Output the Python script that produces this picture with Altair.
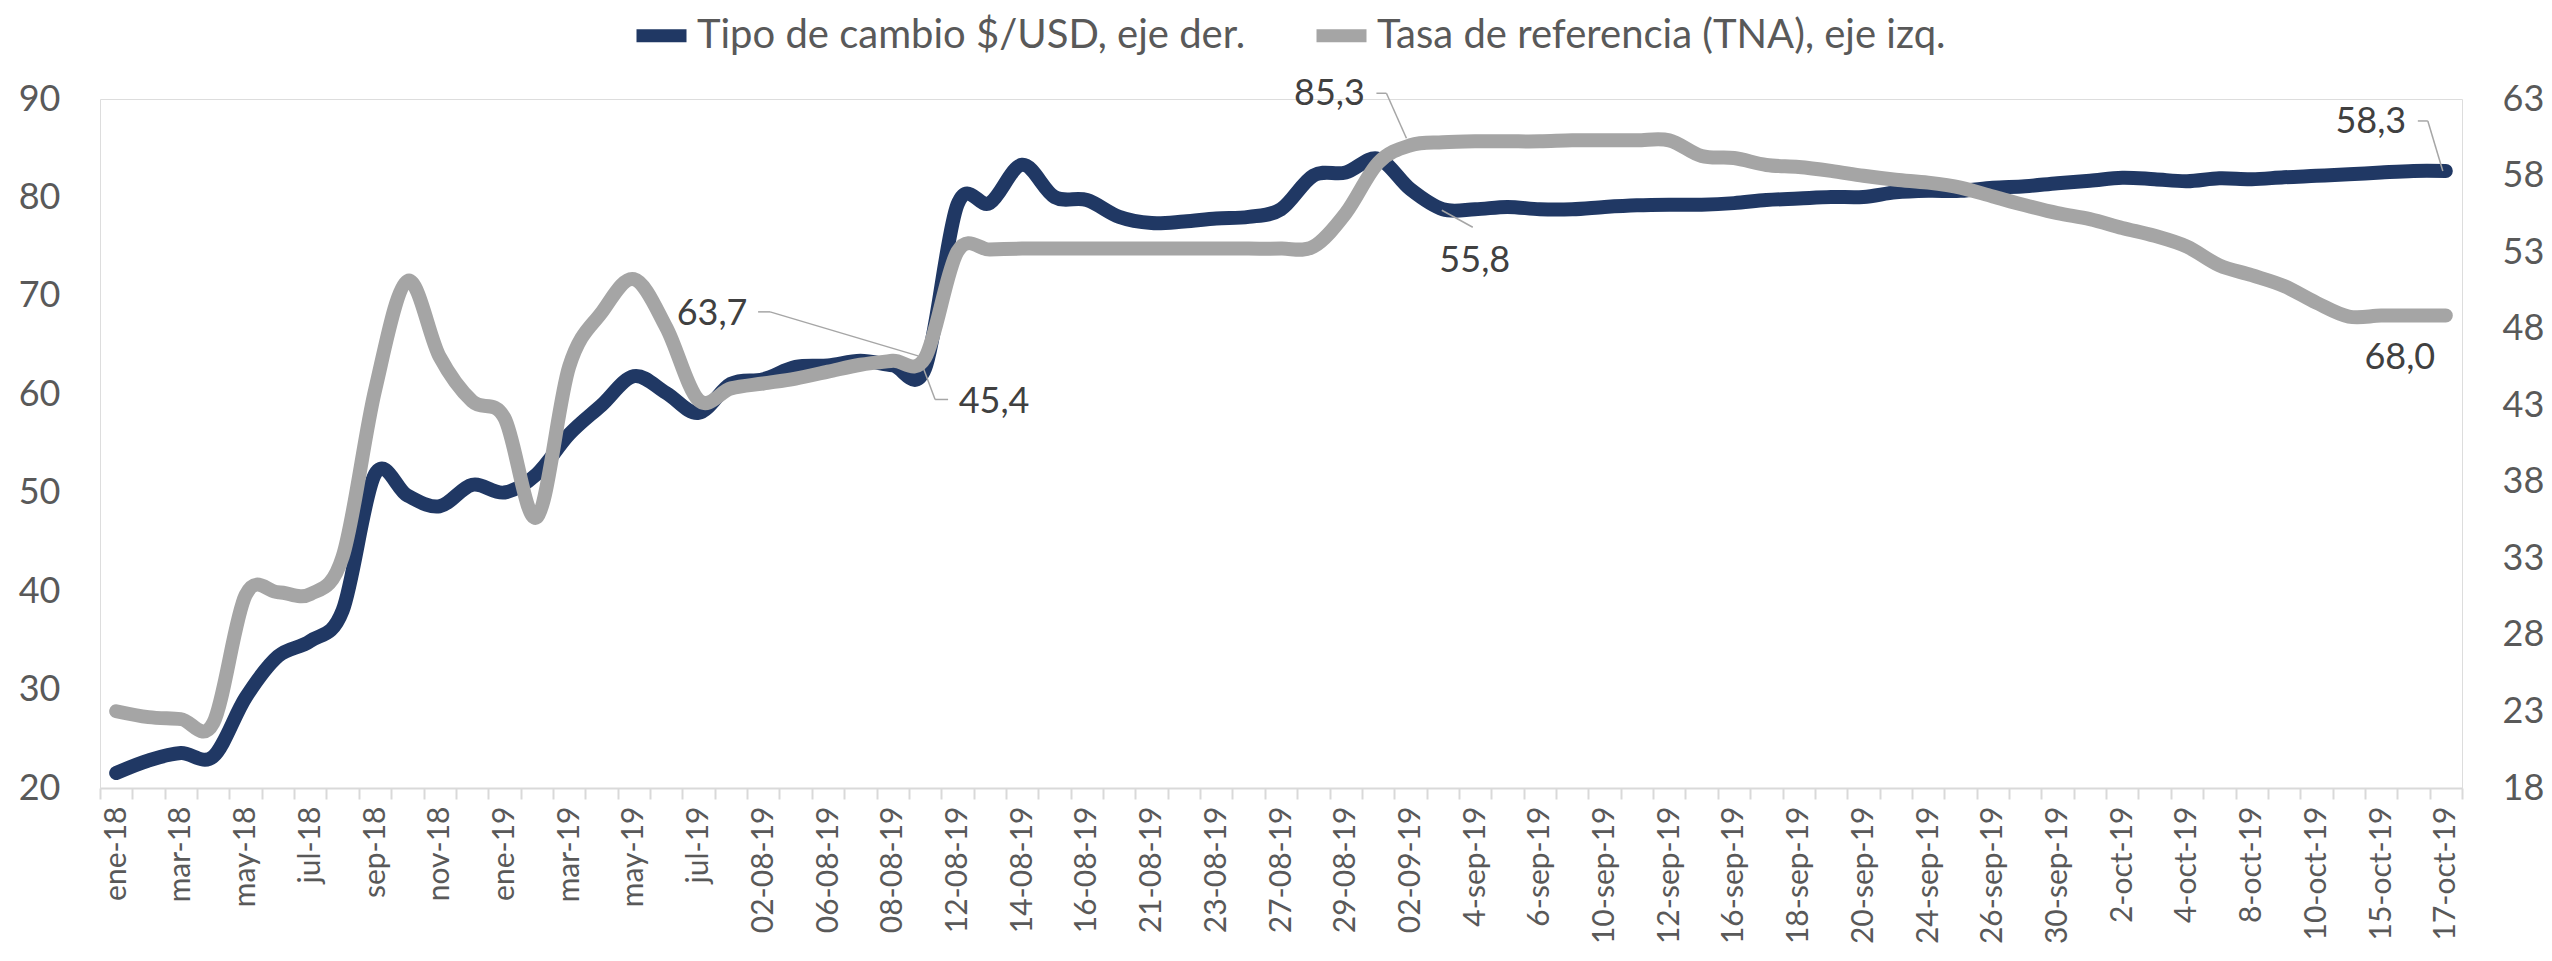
import json
import altair as alt
import pandas as pd

# ---------------- data ----------------
categories = [
    "ene-18", "feb-18", "mar-18", "abr-18", "may-18", "jun-18", "jul-18", "ago-18",
    "sep-18", "oct-18", "nov-18", "dic-18", "ene-19", "feb-19", "mar-19", "abr-19",
    "may-19", "jun-19", "jul-19", "01-08-19", "02-08-19", "05-08-19", "06-08-19",
    "07-08-19", "08-08-19", "09-08-19", "12-08-19", "13-08-19", "14-08-19", "15-08-19",
    "16-08-19", "20-08-19", "21-08-19", "22-08-19", "23-08-19", "26-08-19", "27-08-19",
    "28-08-19", "29-08-19", "30-08-19", "02-09-19", "3-sep-19", "4-sep-19", "5-sep-19",
    "6-sep-19", "9-sep-19", "10-sep-19", "11-sep-19", "12-sep-19", "13-sep-19",
    "16-sep-19", "17-sep-19", "18-sep-19", "19-sep-19", "20-sep-19", "23-sep-19",
    "24-sep-19", "25-sep-19", "26-sep-19", "27-sep-19", "30-sep-19", "1-oct-19",
    "2-oct-19", "3-oct-19", "4-oct-19", "7-oct-19", "8-oct-19", "9-oct-19", "10-oct-19",
    "11-oct-19", "15-oct-19", "16-oct-19", "17-oct-19",
]

# Tasa de referencia (TNA), eje izq.
tasa = [
    27.8, 27.2, 27.0, 26.6, 39.6, 39.9, 39.7, 43.5, 60.4, 71.5, 63.8, 59.3,
    57.6, 47.5, 62.8, 68.3, 71.7, 66.8, 59.4, 60.6, 61.1, 61.6, 62.3, 63.0, 63.4,
    63.7, 74.5, 74.7, 74.8, 74.8, 74.8, 74.8, 74.8, 74.8, 74.8, 74.8, 74.8,
    75.0, 78.4, 83.5, 85.3,
    85.6, 85.7, 85.7, 85.7, 85.8, 85.8, 85.8, 85.8,
    84.2, 84.0, 83.3, 83.1, 82.7, 82.2, 81.8, 81.5, 81.0, 80.1, 79.2, 78.4, 77.8,
    76.9, 76.1, 75.0, 73.1, 72.1, 71.0, 69.3, 67.9, 68.0, 68.0, 68.0,
]

# Tipo de cambio $/USD, eje der.
tc = [
    18.98, 19.8, 20.28, 20.06, 23.9, 26.6, 27.6, 29.6, 38.5, 37.1, 36.4, 37.8,
    37.3, 38.5, 41.1, 43.0, 44.9, 43.8, 42.5, 44.4, 44.7, 45.5, 45.6, 45.9, 45.6, 45.4,
    56.1, 56.2, 58.7, 56.6, 56.4, 55.3, 54.9, 55.0, 55.2, 55.3, 55.8, 58.0, 58.2, 59.1, 57.1,
    55.8, 55.8, 55.95, 55.8, 55.8, 55.95, 56.06, 56.1, 56.1, 56.2, 56.4, 56.5, 56.6,
    56.6, 56.9, 57.0, 57.0, 57.2, 57.3, 57.5, 57.66, 57.86, 57.76, 57.63, 57.82,
    57.76, 57.89, 57.98, 58.08, 58.2, 58.3, 58.3,
]

left_ticks = [20, 30, 40, 50, 60, 70, 80, 90]
right_ticks = [18, 23, 28, 33, 38, 43, 48, 53, 58, 63]

name_tc = "Tipo de cambio $/USD, eje der."
name_tasa = "Tasa de referencia (TNA), eje izq."

df = pd.DataFrame({
    "idx": list(range(len(categories))),
    "cat": categories,
    "tasa": tasa,
    "tc": tc,
})

# ---------------- style ----------------
BLUE = "#203864"
GREY = "#A5A5A5"
FONT = "Lato"
TXT = "#595959"
LBL = "#404040"
LEAD = "#A6A6A6"
n = len(categories)
W, H = 2362, 689
band = W / n

cats_js = json.dumps(categories)
label_expr = (
    f"((datum.value + 0.5) % 2 == 0 && datum.value < {n - 1}) "
    f"? {cats_js}[datum.value + 0.5] : ''"
)

x_enc = alt.X(
    "idx:Q",
    scale=alt.Scale(domain=[-0.5, n - 0.5], nice=False, zero=False),
    axis=alt.Axis(
        values=[k - 0.5 for k in range(n + 1)],
        labelExpr=label_expr,
        labelAngle=270,
        labelAlign="right",
        labelBaseline="middle",
        labelOffset=band / 2,
        labelPadding=7,
        labelOverlap=False,
        labelBound=False,
        labelFlush=False,
        labelFont=FONT,
        labelFontSize=30,
        labelColor=TXT,
        title=None,
        grid=False,
        domainColor="#D9D9D9",
        domainWidth=2,
        tickColor="#D9D9D9",
        tickWidth=2,
        tickSize=11,
    ),
)

y_tasa = alt.Y(
    "tasa:Q",
    scale=alt.Scale(domain=[20, 90], nice=False, zero=False),
    axis=alt.Axis(
        orient="left", values=left_ticks, title=None, grid=False, domain=False,
        ticks=False, labelFont=FONT, labelFontSize=36, labelColor=TXT, labelPadding=40,
    ),
)
y_tc = alt.Y(
    "tc:Q",
    scale=alt.Scale(domain=[18, 63], nice=False, zero=False),
    axis=alt.Axis(
        orient="right", values=right_ticks, title=None, grid=False, domain=False,
        ticks=False, labelFont=FONT, labelFontSize=36, labelColor=TXT, labelPadding=40,
    ),
)

color_scale = alt.Scale(domain=[name_tc, name_tasa], range=[BLUE, GREY])
legend = alt.Legend(
    orient="none", legendX=530, legendY=-95, direction="horizontal", title=None,
    symbolType="stroke", symbolSize=2500, symbolStrokeWidth=13,
    labelFont=FONT, labelFontSize=40, labelColor=TXT, labelLimit=0,
    labelOffset=4, columnPadding=44, padding=0,
)

base = alt.Chart(df)
line_kw = dict(interpolate="cardinal", strokeWidth=14, strokeCap="round", strokeJoin="round")

blue_line = base.transform_calculate(serie=f"'{name_tc}'").mark_line(**line_kw).encode(
    x=x_enc, y=y_tc,
    color=alt.Color("serie:N", scale=color_scale, legend=legend),
)
grey_line = base.transform_calculate(serie=f"'{name_tasa}'").mark_line(**line_kw).encode(
    x=x_enc, y=y_tasa,
    color=alt.Color("serie:N", scale=color_scale, legend=legend),
)


def leader(field, y_enc, i, p0, p1):
    return base.transform_filter(alt.datum.idx == i).mark_rule(
        color=LEAD, strokeWidth=1.5,
        xOffset=p0[0], yOffset=p0[1], x2Offset=p1[0], y2Offset=p1[1],
    ).encode(x=x_enc, y=y_enc, x2=alt.X2("idx"), y2=alt.Y2(field))


def label(field, y_enc, i, dx, dy):
    return base.transform_filter(alt.datum.idx == i).transform_calculate(
        lab=f"replace(format(datum.{field}, '.1f'), '.', ',')"
    ).mark_text(
        font=FONT, fontSize=36, color=LBL, dx=dx, dy=dy, align="center", baseline="middle",
    ).encode(x=x_enc, y=y_enc, text="lab:N")


blue_group = alt.layer(
    blue_line,
    leader("tc", y_tc, 25, (-2, -1), (10, 31)),
    leader("tc", y_tc, 25, (10, 31), (23, 31)),
    leader("tc", y_tc, 41, (-1, 1), (30, 18)),
    leader("tc", y_tc, 72, (-3, 0), (-18, -50)),
    leader("tc", y_tc, 72, (-18, -50), (-28, -50)),
    label("tc", y_tc, 25, 69, 34),
    label("tc", y_tc, 41, 32, 52),
    label("tc", y_tc, 72, -75, -49),
)

grey_group = alt.layer(
    grey_line,
    leader("tasa", y_tasa, 25, (-7, -2), (-155, -46)),
    leader("tasa", y_tasa, 25, (-155, -46), (-167, -46)),
    leader("tasa", y_tasa, 40, (-4, -7), (-24, -52)),
    leader("tasa", y_tasa, 40, (-24, -52), (-34, -52)),
    label("tasa", y_tasa, 25, -213, -44),
    label("tasa", y_tasa, 40, -81, -51),
    label("tasa", y_tasa, 72, -46, 42),
)

chart = alt.layer(blue_group, grey_group).resolve_scale(y="independent").properties(
    width=W, height=H,
    autosize=alt.AutoSizeParams(type="none"),
    padding={"left": 92, "top": 91, "right": 82, "bottom": 164},
).configure_view(stroke=None).configure(background="white")

chart.save("out.html", embed_options={"renderer": "svg", "actions": False})
